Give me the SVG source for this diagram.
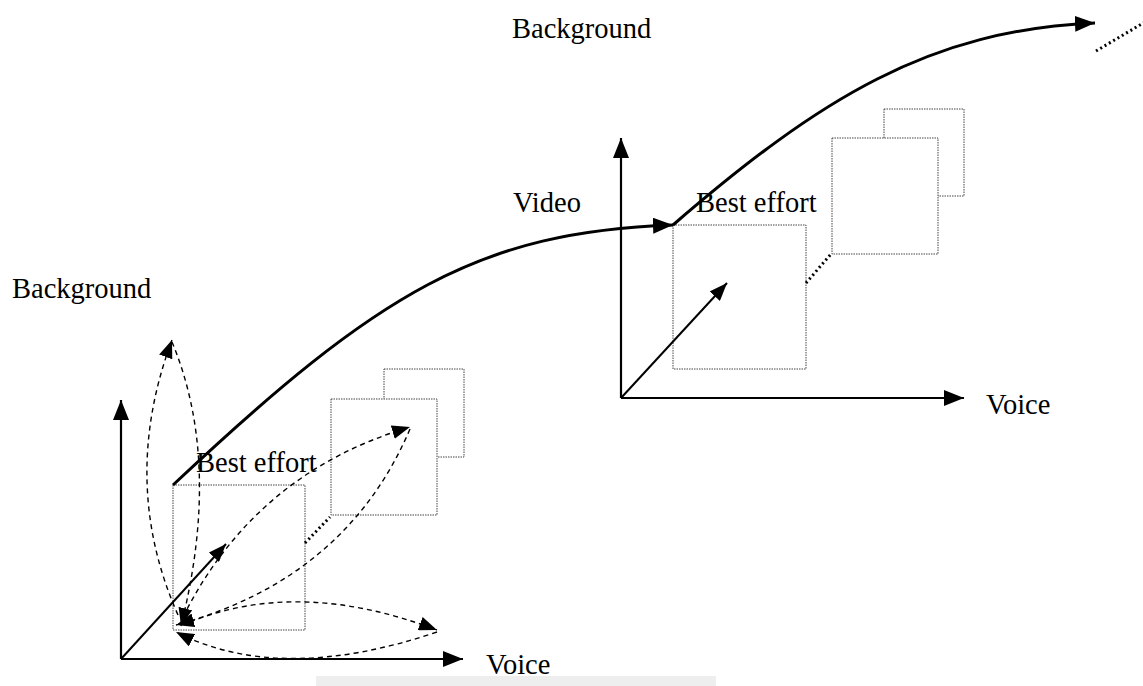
<svg xmlns="http://www.w3.org/2000/svg" width="1143" height="686" viewBox="0 0 1143 686">
<style>
  .lbl { font-family: "Liberation Serif", "Times New Roman", serif; font-size: 28.5px; fill: #000; }
  .box { fill: none; stroke: #444; stroke-width: 1; stroke-dasharray: 1.5 1; }
  .boxw { fill: #fff; stroke: #444; stroke-width: 1; stroke-dasharray: 1.5 1; }
  .axis { fill: none; stroke: #000; stroke-width: 2.2; }
  .thick { fill: none; stroke: #000; stroke-width: 3; }
  .diag { fill: none; stroke: #000; stroke-width: 2; }
  .dash { fill: none; stroke: #000; stroke-width: 1.4; stroke-dasharray: 5 4; }
  .dots { fill: none; stroke: #000; stroke-width: 3; stroke-dasharray: 2 3; }
</style>
<defs>
  <marker id="ah" markerUnits="userSpaceOnUse" viewBox="0 0 20 16" markerWidth="20" markerHeight="16" refX="20" refY="8" orient="auto">
    <path d="M0,0 L20,8 L0,16 z" fill="#000"/>
  </marker>
  <marker id="ahs" markerUnits="userSpaceOnUse" viewBox="0 0 18 14" markerWidth="18" markerHeight="14" refX="18" refY="7" orient="auto">
    <path d="M0,0 L18,7 L0,14 z" fill="#000"/>
  </marker>
</defs>
<rect x="0" y="0" width="1143" height="686" fill="#fff"/>
<rect x="316" y="676" width="400" height="10" fill="#eeeeee"/>

<g id="left-boxes">
  <rect id="left-box3" class="box" x="384" y="369" width="80" height="88"/>
  <rect id="left-box2" class="boxw" x="331" y="399" width="106" height="116"/>
  <rect id="left-box1" class="box" x="173" y="485" width="132" height="145"/>
</g>
<g id="right-boxes">
  <rect id="right-box3" class="box" x="884" y="109" width="80" height="87"/>
  <rect id="right-box2" class="boxw" x="832" y="138" width="106" height="116"/>
  <rect id="right-box1" class="box" x="673" y="225" width="133" height="144"/>
</g>

<g id="connectors">
  <!-- left axes -->
  <path class="axis" d="M121,659 L121,400" marker-end="url(#ah)"/>
  <path class="axis" d="M121,659 L463,659" marker-end="url(#ah)"/>
  <path class="diag" d="M121,659 L226,544" marker-end="url(#ahs)"/>
  <!-- right axes -->
  <path class="axis" d="M621,398 L621,138" marker-end="url(#ah)"/>
  <path class="axis" d="M621,398 L964,398" marker-end="url(#ah)"/>
  <path class="diag" d="M621,398 L727,283" marker-end="url(#ahs)"/>
  <!-- main curves -->
  <path class="thick" d="M173,485 C380,290 480,232 673,225" marker-end="url(#ah)"/>
  <path class="thick" d="M673,225 C820,98 930,30 1095,23" marker-end="url(#ah)"/>
  <!-- dotted links -->
  <path class="dots" d="M305,543 L330,517"/>
  <path class="dots" d="M806,283 L831,254"/>
  <path class="dots" d="M1096,51 L1150,19"/>
  <!-- dashed transitions -->
  <path class="dash" d="M178,615 Q119,482 172,340" marker-end="url(#ahs)"/>
  <path class="dash" d="M172,342 Q222,462 181,626" marker-end="url(#ahs)"/>
  <path class="dash" d="M183,617 Q255,473 410,427" marker-end="url(#ahs)"/>
  <path class="dash" d="M410,429 Q346,579 176,625" marker-end="url(#ahs)"/>
  <path class="dash" d="M190,622 Q300,578 437,630" marker-end="url(#ahs)"/>
  <path class="dash" d="M437,632 Q280,685 176,632" marker-end="url(#ahs)"/>
</g>

<g id="labels">
  <text id="t-bg-top" class="lbl" x="512" y="38">Background</text>
  <text id="t-bg-left" class="lbl" x="12" y="298">Background</text>
  <text id="t-video" class="lbl" x="513" y="212">Video</text>
  <text id="t-be-right" class="lbl" x="696" y="212">Best effort</text>
  <text id="t-voice-right" class="lbl" x="986" y="414">Voice</text>
  <text id="t-be-left" class="lbl" x="196" y="472">Best effort</text>
  <text id="t-voice-left" class="lbl" x="486" y="674">Voice</text>
</g>
</svg>
